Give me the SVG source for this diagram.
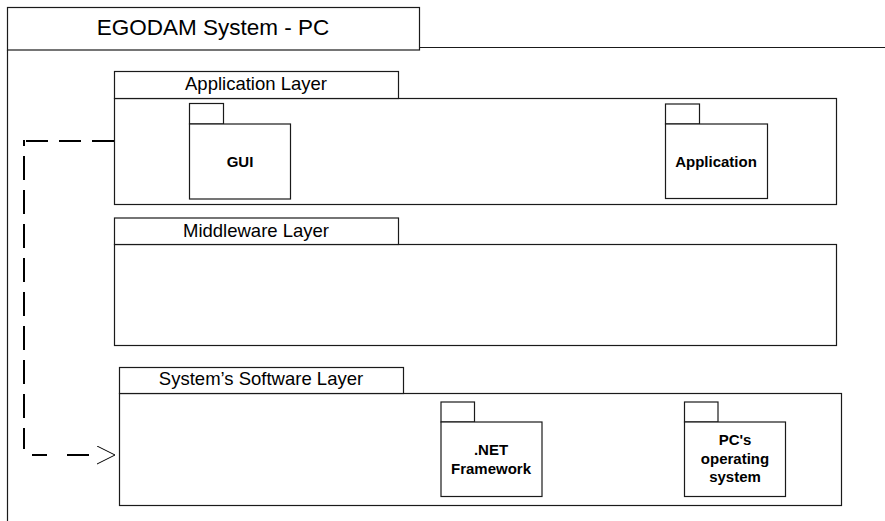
<svg xmlns="http://www.w3.org/2000/svg" width="885" height="521" viewBox="0 0 885 521">
  <style>
    .box { fill: #ffffff; stroke: #1a1a1a; stroke-width: 1.2; }
    .edge { fill: none; stroke: #1a1a1a; stroke-width: 1.2; }
    .title { font-family: "Liberation Sans", Arial, sans-serif; font-size: 22.5px; fill: #000; text-anchor: middle; }
    .layer { font-family: "Liberation Sans", Arial, sans-serif; font-size: 18.5px; fill: #000; text-anchor: middle; }
    .pkg { font-family: "Liberation Sans", Arial, sans-serif; font-size: 15px; font-weight: bold; fill: #000; text-anchor: middle; }
    .dep { fill: none; stroke: #000; stroke-width: 2; }
  </style>
  <defs>
    <marker id="openArrow" markerUnits="userSpaceOnUse" markerWidth="22" markerHeight="22" refX="0" refY="9" orient="auto">
      <path d="M0,0 L18,9 L0,18" fill="none" stroke="#000" stroke-width="1"/>
    </marker>
  </defs>

  <rect width="885" height="521" fill="#ffffff"/>

  <!-- outer package frame -->
  <g id="system-pc">
    <path class="edge" d="M419.5,47.5 H885 M7.5,50 V521"/>
    <rect class="box" x="7.5" y="7.5" width="412" height="42.5"/>
    <text class="title" x="213" y="35">EGODAM System - PC</text>
  </g>

  <!-- application layer -->
  <g id="application-layer">
    <rect class="box" x="114.5" y="98.5" width="722" height="106"/>
    <rect class="box" x="114.5" y="71.5" width="284" height="27"/>
    <text class="layer" x="256" y="90">Application Layer</text>
  </g>
  <g id="gui">
    <rect class="box" x="189.5" y="103.5" width="34" height="20.5"/>
    <rect class="box" x="189.5" y="124" width="101" height="75"/>
    <text class="pkg" x="240" y="167">GUI</text>
  </g>
  <g id="application">
    <rect class="box" x="665.5" y="104" width="34" height="20"/>
    <rect class="box" x="665.5" y="124" width="102" height="74.5"/>
    <text class="pkg" x="716" y="167">Application</text>
  </g>

  <!-- middleware layer -->
  <g id="middleware-layer">
    <rect class="box" x="114.5" y="244.5" width="722" height="101"/>
    <rect class="box" x="114.5" y="218" width="284" height="26.5"/>
    <text class="layer" x="256" y="237">Middleware Layer</text>
  </g>

  <!-- system's software layer -->
  <g id="systems-software-layer">
    <rect class="box" x="119.5" y="393.5" width="722" height="112"/>
    <rect class="box" x="119.5" y="367.5" width="284" height="26"/>
    <text class="layer" x="261" y="385">System’s Software Layer</text>
  </g>
  <g id="dotnet-framework">
    <rect class="box" x="441" y="402" width="33.5" height="20"/>
    <rect class="box" x="441" y="422" width="101" height="74.5"/>
    <text class="pkg" x="491" y="455">.NET</text>
    <text class="pkg" x="491" y="474">Framework</text>
  </g>
  <g id="pc-operating-system">
    <rect class="box" x="684.5" y="402" width="33.5" height="20"/>
    <rect class="box" x="684.5" y="422" width="101" height="74.5"/>
    <text class="pkg" x="735" y="445">PC's</text>
    <text class="pkg" x="735" y="464">operating</text>
    <text class="pkg" x="735" y="482">system</text>
  </g>

  <!-- dependency connector: application layer to system's software layer -->
  <g id="connectors">
    <path class="dep" d="M114,141 H23" stroke-dasharray="22 11"/>
    <path class="dep" d="M24,140 V449" stroke-dasharray="24 10" stroke-dashoffset="18"/>
    <path class="dep" d="M32,455 H97" stroke-dasharray="15 20 22 100" marker-end="url(#openArrow)"/>
  </g>
</svg>
